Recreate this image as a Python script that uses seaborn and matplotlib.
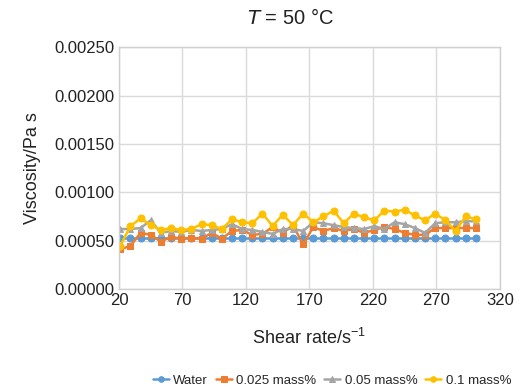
import matplotlib
matplotlib.use("Agg")
import matplotlib.pyplot as plt
import seaborn as sns
import pandas as pd

shear_rate = [21, 29, 37, 45, 53, 61, 69, 77, 85, 93, 101, 109, 117, 125, 133, 141, 149, 157,
              165, 173, 181, 189, 197, 205, 213, 221, 229, 237, 245, 253, 261, 269, 277, 285, 293, 301]

water = [0.00053] * 36

mass_0025 = [0.00041, 0.000445, 0.00058, 0.00056, 0.00049, 0.00054, 0.00052, 0.00053, 0.00052, 0.00058,
             0.00052, 0.00060, 0.00061, 0.00056, 0.00057, 0.00064, 0.00058, 0.00066, 0.00046, 0.00064,
             0.00060, 0.00063, 0.00060, 0.00062, 0.00058, 0.00061, 0.00064, 0.00062, 0.00058, 0.00056,
             0.00056, 0.00063, 0.00063, 0.00063, 0.00063, 0.00063]

mass_005 = [0.00062, 0.00062, 0.00063, 0.00071, 0.00058, 0.00060, 0.00059, 0.00061, 0.00060, 0.00061,
            0.00062, 0.00067, 0.00062, 0.00061, 0.00059, 0.00057, 0.00062, 0.00062, 0.00060, 0.00069,
            0.00068, 0.00066, 0.00064, 0.00063, 0.00062, 0.00065, 0.00062, 0.00069, 0.00067, 0.00063,
            0.00058, 0.00068, 0.00069, 0.00069, 0.00070, 0.00070]

mass_01 = [0.000446, 0.00065, 0.00073, 0.00066, 0.00061, 0.00063, 0.00061, 0.00062, 0.00067, 0.00066,
           0.00062, 0.00072, 0.00069, 0.00068, 0.00078, 0.00065, 0.00077, 0.00066, 0.00078, 0.00069,
           0.00075, 0.00081, 0.00068, 0.00078, 0.00074, 0.00071, 0.00081, 0.00080, 0.00082, 0.00076,
           0.00071, 0.00078, 0.00071, 0.00060, 0.00075, 0.00072]

series_names = ["Water", "0.025 mass%", "0.05 mass%", "0.1 mass%"]
series_values = [water, mass_0025, mass_005, mass_01]
colors = ["#5B9BD5", "#ED7D31", "#A5A5A5", "#FFC000"]
markers = ["o", "s", "^", "o"]

x_ticks = [20, 70, 120, 170, 220, 270, 320]
y_ticks = [0.0, 0.0005, 0.0010, 0.0015, 0.0020, 0.0025]

sns.set_theme(style="whitegrid")
plt.rcParams['font.family'] = ['Liberation Sans', 'DejaVu Sans']

fig = plt.figure(figsize=(5.23, 3.90), dpi=100)
ax = fig.add_axes([0.2275, 0.259, 0.7285, 0.62])

for name, vals, c, m in zip(series_names, series_values, colors, markers):
    df = pd.DataFrame({"x": shear_rate, "y": vals})
    sns.lineplot(data=df, x="x", y="y", ax=ax, color=c, marker=m, markersize=5,
                 markeredgecolor=c, linewidth=1.8, label=name)

ax.set_xlim(20, 320)
ax.set_ylim(0, 0.0025)
ax.set_xticks(x_ticks)
ax.set_yticks(y_ticks)
ax.set_yticklabels([f"{v:.5f}" for v in y_ticks])
ax.tick_params(axis='both', labelsize=12, length=0, pad=3, colors="#222222")
ax.grid(True, color="#DADADA", linewidth=1)
for s in ax.spines.values():
    s.set_color("#D0D0D0")
    s.set_linewidth(1)

ax.set_xlabel("Shear rate/s$^{\\mathregular{-1}}$", fontsize=13, labelpad=14, color="#222222")
ax.set_ylabel("Viscosity/Pa s", fontsize=13, labelpad=10, color="#222222")
ax.set_title("$\\mathit{T}$ = 50 °C", fontsize=14.5, pad=17, color="#222222", x=0.45)

ax.get_legend().remove()
handles, labels = ax.get_legend_handles_labels()
fig.legend(handles, labels, loc="lower center", bbox_to_anchor=(0.635, -0.005), ncol=4,
           frameon=False, fontsize=9.5, handlelength=1.2, handletextpad=0.35,
           columnspacing=0.6, borderaxespad=0.0, markerscale=0.8)

fig.savefig("out.png", dpi=100)
